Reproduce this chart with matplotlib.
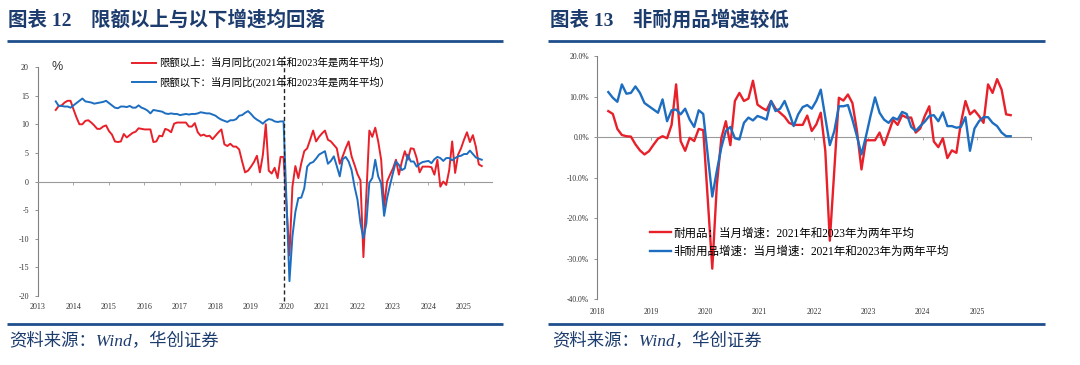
import numpy as np
import pandas as pd
import matplotlib
matplotlib.use("Agg")
import matplotlib.pyplot as plt
from matplotlib.lines import Line2D

plt.rcParams['font.family'] = ['Liberation Serif', 'Noto Sans CJK SC', 'DejaVu Sans']

nan = np.nan

# ---------------- 图表12 data (monthly from 2013-07) ----------------
left_start = "2013-07"
above_quota = [
    12.5, 13.2, 13.3, 13.8, 14.1, 14.1, 12.6, 11.2, 10.0, 10.0,
    10.6, 10.7, 10.3, 9.8, 9.2, 9.2, 9.6, 9.8, 8.8, 8.2,
    7.0, 6.9, 7.0, 8.3, 7.7, 8.1, 8.5, 8.7, 9.3, 9.2,
    9.1, 9.1, 9.1, 6.9, 7.0, 8.0, 7.9, 9.2, 9.0, 8.6,
    10.1, 10.3, 10.3, 10.3, 10.3, 9.6, 9.6, 10.2, 8.6, 8.0,
    8.2, 7.9, 8.0, 7.4, 8.0, 8.6, 9.1, 6.5, 6.2, 6.6,
    6.1, 6.1, 5.6, 3.5, 1.6, 1.9, 2.6, 3.4, 4.5, 1.6,
    4.6, 10.0, 1.9, 1.4, 2.4, 0.6, 4.3, 4.3,
    nan,
    -12.9, -0.9, 2.7, 0.6, 3.2, 5.3, 5.8, 7.3, 8.9, 7.0,
    7.8, 8.4, 8.9, 7.3, 7.0, 6.4, 5.8, 3.1, 4.4, 5.8,
    7.0, 4.4, 2.9, 1.3, 0.2, -13.2, -2.0, 8.9, 7.8, 9.4,
    7.0, 3.8, -4.4, 0.0, 1.2, 2.3, 3.8, 1.2, 3.5, 5.3,
    3.8, 5.8, 5.7, 4.1, 1.6, 2.6, 2.6, 2.6, 2.5, 1.2,
    3.8, -0.9, 0.0, -0.6, 2.0, 7.0, 1.5, 4.7, 5.8, 7.3,
    8.6, 6.9, 8.1, 6.1, 3.0, 2.7,
]
below_quota = [
    14.0, 13.2, 13.2, 13.1, 13.1, 12.9, 13.3, 13.7, 14.1, 14.5,
    14.0, 13.9, 13.8, 13.6, 13.7, 13.8, 13.9, 14.1, 13.7, 13.3,
    12.9, 12.8, 13.1, 13.1, 13.0, 13.2, 12.9, 12.9, 13.3, 12.9,
    12.7, 12.4, 11.9, 12.5, 12.4, 12.3, 12.2, 11.9, 11.8, 11.9,
    11.8, 11.8, 11.6, 11.7, 11.8, 11.7, 11.8, 11.8, 11.9, 12.1,
    12.0, 11.9, 11.9, 11.7, 11.5, 11.1, 10.8, 10.6, 10.4, 10.7,
    10.7, 10.9, 11.5, 11.6, 12.0, 12.3, 11.8, 11.2, 10.8, 10.5,
    10.1, 10.6, 10.9, 10.8, 10.5, 10.4, 10.5, 10.5,
    nan,
    -17.4, -9.6, -5.3, -2.9, -2.8, -1.2, 2.6, 3.2, 3.4, 4.0,
    4.7, 5.0, 5.3, 3.1, 3.6, 4.4, 2.7, 0.9, 3.9, 4.3,
    3.5, 2.0, -0.9, -3.2, -7.3, -9.9, -7.3, -0.2, 0.6, 3.8,
    0.9, -0.3, -6.0, -2.9, -0.6, 1.5, 3.5, 2.9, 2.0, 2.3,
    4.7, 3.5, 3.5, 2.6, 3.1, 3.4, 3.5, 3.6, 3.2, 3.9,
    4.3, 4.1, 3.6, 4.1, 4.1, 3.7, 4.1, 4.4, 4.5, 4.8,
    4.8, 5.4, 4.8, 4.2, 4.0, 3.8,
]
left_labels = ["限额以上：当月同比(2021年和2023年是两年平均）",
               "限额以下：当月同比(2021年和2023年是两年平均）"]
left_years = list(range(2013, 2026))
left_divider = "2019-12"

# ---------------- 图表13 data (monthly from 2018-03) ----------------
right_start = "2018-03"
durable = [
    6.4, 5.7, 2.0, 0.5, 0.2, 0.1, -1.8, -3.3, -4.3, -3.5,
    -1.9, -0.4, 0.2, -0.3, 3.0, 13.0, -1.0, -3.4, -0.2, -1.0,
    2.0, 1.7, nan, -32.5, -12.0, -0.3, 3.9, -2.0, 8.9, 10.9,
    8.9, 9.5, 13.9, 8.0, 7.2, 6.6, 8.9, 7.0, 6.0, 5.0,
    3.5, 3.0, 3.0, 3.0, 5.3, 1.5, 3.1, 6.0, -3.4, -25.6,
    -8.0, 9.7, 9.0, 10.5, 8.4, 1.5, -8.0, -0.8, -0.8, -0.8,
    1.1, -2.0, 1.1, 4.3, 3.0, 5.4, 4.8, 4.8, 1.1, 2.1,
    5.2, 7.6, -1.1, -2.5, -0.3, -5.2, -3.3, -3.9, 3.5, 8.9,
    5.6, 6.6, 5.2, 3.5, 13.0, 10.9, 14.3, 11.7, 5.6, 5.4,
]
non_durable = [
    11.1, 9.7, 8.7, 13.0, 10.7, 10.9, 12.5, 10.9, 8.4, 7.6,
    6.8, 6.0, 9.3, 3.9, 6.6, 6.8, 5.6, 7.0, 4.3, 2.5,
    6.6, 5.7, nan, -14.7, -8.4, -2.6, 1.5, 2.5, -0.3, -0.6,
    3.5, 4.8, 4.1, 5.2, 4.8, 4.3, 8.9, 6.4, 7.0, 8.9,
    6.0, 2.7, 5.6, 7.4, 7.9, 7.0, 8.9, 11.7, 4.8, -2.0,
    1.5, 7.6, 7.6, 7.9, 4.3, 0.2, -4.3, 0.2, 5.2, 9.8,
    6.0, 4.3, 3.5, 4.8, 4.3, 6.2, 5.7, 2.5, 1.5, 2.7,
    3.8, 5.2, 5.4, 3.9, 6.1, 2.7, 2.7, 2.3, 2.5, 4.9,
    -3.4, 2.1, 3.9, 4.9, 4.9, 3.5, 2.7, 1.1, 0.2, 0.2,
]
right_labels = ["耐用品：当月增速：2021年和2023年为两年平均",
                "非耐用品增速：当月增速：2021年和2023年为两年平均"]
right_years = list(range(2018, 2026))
right_yticks = [-40, -30, -20, -10, 0, 10, 20]

RED = '#E8202A'
BLUE = '#1D6EC0'
GREY = '#9A9A9A'
NAVY = '#1D3C6E'
BAR = '#1F4E8D'


def monthly_x(start, n, mid):
    p = pd.period_range(start, periods=n, freq='M')
    return p.year + (p.month - 1 + (0.5 if mid else 0.0)) / 12.0


def series(start, values, mid):
    s = pd.Series(values, index=monthly_x(start, len(values), mid))
    return s.dropna()


W, H = 1080, 365
fig = plt.figure(figsize=(W / 100, H / 100), dpi=100)


def px_axes(x0, x1, ytop, ybot):
    return fig.add_axes([x0 / W, 1 - ybot / H, (x1 - x0) / W, (ybot - ytop) / H])


def style_axes(ax, ybounds, tick_years, label_years, label_y, fs, ypad):
    for side in ('top', 'right'):
        ax.spines[side].set_visible(False)
    ax.spines['bottom'].set_position(('data', 0))
    ax.spines['bottom'].set_color(GREY)
    ax.spines['bottom'].set_linewidth(0.8)
    ax.spines['left'].set_color('#808080')
    ax.spines['left'].set_linewidth(0.8)
    ax.spines['left'].set_bounds(*ybounds)
    ax.set_xticks(tick_years)
    ax.tick_params(axis='x', direction='out', length=2.5, width=0.6,
                   color=GREY, labelbottom=False)
    ax.tick_params(axis='y', direction='out', length=2, width=0.6,
                   color='#808080', labelsize=fs, labelcolor='#333333', pad=ypad)
    for yr in label_years:
        ax.text(yr, label_y, str(yr), transform=ax.get_xaxis_transform(),
                ha='center', va='center', fontsize=fs, color='#333333')
    ax.patch.set_alpha(0)


# ---------------- left chart ----------------
ax1 = px_axes(38, 492.4, 52.7, 298.9)
ax1.set_xlim(2013, 2025.8)
ax1.set_ylim(-20.5, 22.5)
s_up = series(left_start, above_quota, False)
s_dn = series(left_start, below_quota, False)
h1, = ax1.plot(s_up.index, s_up.values, color=RED, lw=1.4, zorder=3)
h2, = ax1.plot(s_dn.index, s_dn.values, color=BLUE, lw=1.4, zorder=3)
ax1.set_yticks(range(-20, 21, 5))
ax1.set_yticklabels([str(v) for v in range(-20, 21, 5)])
style_axes(ax1, (-20, 20), left_years[1:], left_years, -0.033, 5.8, 4.5)
div = pd.Period(left_divider, freq='M')
div_x = div.year + (div.month - 1) / 12.0
ax1.vlines(div_x, -20.8, 22.0, colors='#222222', linestyles=(0, (3, 2)),
           lw=1.0, clip_on=False, zorder=4)
ax1.legend([h1, h2], left_labels, loc='upper left', bbox_to_anchor=(0.207, 0.982),
           frameon=False, fontsize=7.5, handlelength=2.3, handletextpad=0.25,
           labelspacing=0.75, borderpad=0, borderaxespad=0)
fig.text(52 / W, 1 - 67 / H, '%', fontsize=9, family='Liberation Sans',
         ha='left', va='center', color='#333333')

# ---------------- right chart ----------------
ax2 = px_axes(597, 1031, 52, 299)
ax2.set_xlim(2018, 2026)
ax2.set_ylim(-40, 21)
s_d = series(right_start, durable, True)
s_n = series(right_start, non_durable, True)
g1, = ax2.plot(s_d.index, s_d.values, color=RED, lw=1.7, zorder=3)
g2, = ax2.plot(s_n.index, s_n.values, color=BLUE, lw=1.7, zorder=3)
ax2.set_yticks(right_yticks)
ax2.set_yticklabels([f"{v:.1f}%" for v in right_yticks])
style_axes(ax2, (-40, 20), list(range(2019, 2027)), right_years, -0.051, 5.5, 3.6)
ax2.legend([g1, g2], right_labels, loc='upper left', bbox_to_anchor=(0.122, 0.290),
           frameon=False, fontsize=8.3, handlelength=1.8, handletextpad=0.2,
           labelspacing=0.6, borderpad=0, borderaxespad=0)

# ---------------- titles, rules, sources ----------------
title_font = dict(fontsize=14, fontweight='bold', color=NAVY, va='center', ha='left')
fig.text(8 / W, 1 - 20 / H, "图表 12\u3000限额以上与以下增速均回落", **title_font)
fig.text(550 / W, 1 - 20 / H, "图表 13\u3000非耐用品增速较低", **title_font)

for x0, x1 in [(7, 503), (548, 1045)]:
    for y in (40.7, 323.5):
        fig.add_artist(Line2D([x0 / W, x1 / W], [1 - y / H] * 2,
                              color=BAR, lw=2.0, solid_capstyle='butt'))

src_font = dict(fontsize=12.5, fontstyle='italic', color=NAVY, va='center', ha='left')
fig.text(9 / W, 1 - 342 / H, "资料来源：Wind，华创证券", **src_font)
fig.text(552 / W, 1 - 342 / H, "资料来源：Wind，华创证券", **src_font)

fig.savefig("out.png", dpi=100)
